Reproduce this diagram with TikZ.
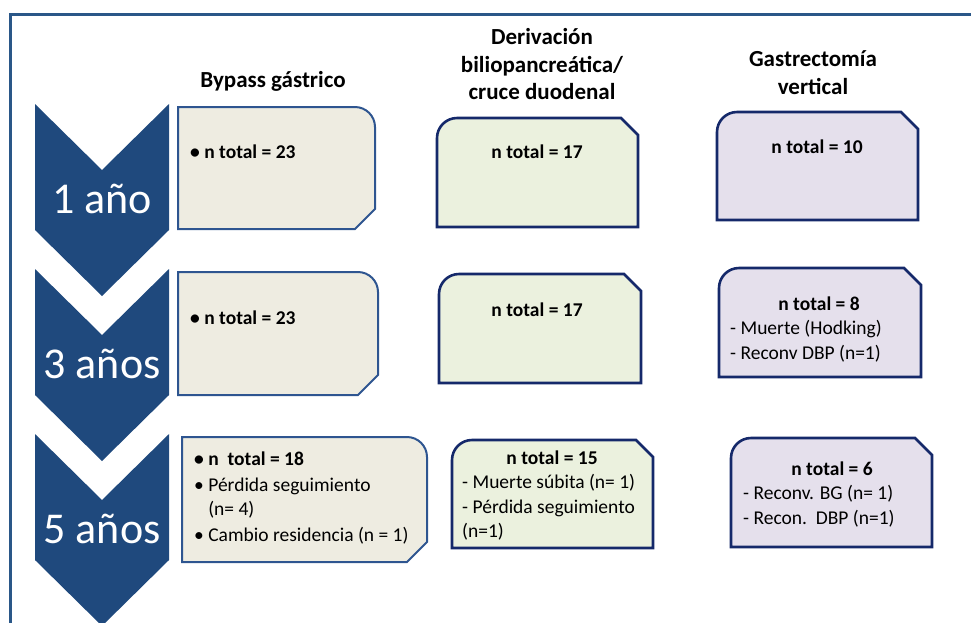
\documentclass[tikz,border=0pt]{standalone}
\usepackage{fontspec}
\setmainfont{Carlito}
\usepackage{xcolor}
\definecolor{framecol}{HTML}{2A5788}
\definecolor{chevcol}{HTML}{1F497D}
\definecolor{bgfill}{HTML}{EEECE1}
\definecolor{bgline}{HTML}{2E5590}
\definecolor{dbfill}{HTML}{EBF1DE}
\definecolor{gvfill}{HTML}{E5E0EC}
\definecolor{navyline}{HTML}{15296A}

% box with rounded top-right and snipped bottom-right corner
\newcommand{\snipround}[5]{%
  \filldraw[#1] (#2,#3) -- ({#4-20},#3) .. controls ({#4-9},#3) and (#4,{#3+9}) .. (#4,{#3+20})
    -- (#4,{#5-20}) -- ({#4-20},#5) -- (#2,#5) -- cycle;}
% box with rounded top-left and snipped top-right corner
\newcommand{\roundsnip}[5]{%
  \filldraw[#1] (#2,{#3+20}) .. controls (#2,{#3+9}) and ({#2+9},#3) .. ({#2+20},#3)
    -- ({#4-17},#3) -- (#4,{#3+17}) -- (#4,#5) -- (#2,#5) -- cycle;}

\begin{document}
\begin{tikzpicture}[
        x=1pt, y=-1pt,
        yearlbl/.style={
            text=white,
            font=\fontsize{44}{50}\selectfont,
            anchor=base,
            inner sep=0pt
        },
        colhead/.style={
            font=\fontsize{23}{27.5}\selectfont\bfseries,
            align=center,
            anchor=north,
            inner sep=0pt
        },
        bgbox/.style={fill=bgfill, draw=bgline, line width=2pt},
        dbbox/.style={fill=dbfill, draw=navyline, line width=2.6pt},
        gvbox/.style={fill=gvfill, draw=navyline, line width=2.6pt},
        ntotal/.style={
            font=\fontsize{19.5}{24.5}\selectfont\bfseries,
            anchor=base,
            inner sep=0pt
        },
        itemtxt/.style={
            font=\fontsize{19.5}{24.5}\selectfont,
            align=left,
            anchor=north west,
            inner sep=0pt
        }
    ]

    \useasboundingbox (0,0) rectangle (971,622);

    % Outer frame (top and left edges)
    \draw[framecol, line width=3pt] (10,640) -- (10,14) -- (990,14);

    % Year chevrons
    \foreach \t/\lbl [count=\i] in {104/1 año, 269/3 años, 434/5 años}{
        \fill[chevcol] (35,\t) -- (102,\t+66) -- (169,\t) -- (169,\t+126)
            -- (102,\t+192) -- (35,\t+126) -- cycle;
        \node[yearlbl] (year\i) at (102,\t+109) {\lbl};
    }

    % Column headers
    \node[colhead, anchor=base] (head_bg) at (273,87) {Bypass gástrico};
    \node[colhead] (head_db) at (542,28.5) {Derivación\\biliopancreática/\\cruce duodenal};
    \node[colhead] (head_gv) at (813,50.5) {Gastrectomía\\vertical};

    % Bypass gastrico boxes
    \snipround{bgbox}{178}{107}{375}{229}
    \snipround{bgbox}{178}{272}{378}{395}
    \snipround{bgbox}{182}{437}{427}{562}
    \node[ntotal, anchor=base west] (bg1_n) at (190,158) {\textbullet\ n total = 23};
    \node[ntotal, anchor=base west] (bg2_n) at (190,324) {\textbullet\ n total = 23};
    \node[itemtxt] (bg3_list) at (194,452) {\textbf{\textbullet\ n\ \ total = 18}\\[1pt]
        \textbullet\ Pérdida seguimiento\\ \phantom{\textbullet\ }(n= 4)\\[1pt]
        \textbullet\ Cambio residencia (n = 1)};

    % Derivacion biliopancreatica boxes
    \roundsnip{dbbox}{437}{118}{638}{227}
    \roundsnip{dbbox}{439}{274}{641}{383}
    \roundsnip{dbbox}{452}{440}{653}{548}
    \node[ntotal] (db1_n) at (537,158) {n total = 17};
    \node[ntotal] (db2_n) at (537,316) {n total = 17};
    \node[ntotal] (db3_n) at (552,464) {n total = 15};
    \node[itemtxt] (db3_list) at (462,474.5) {- Muerte súbita (n= 1)\\- Pérdida seguimiento\\(n=1)};

    % Gastrectomia vertical boxes
    \roundsnip{gvbox}{717}{112}{918}{220}
    \roundsnip{gvbox}{719}{268}{921}{377}
    \roundsnip{gvbox}{731}{438}{932}{547}
    \node[ntotal] (gv1_n) at (817,153) {n total = 10};
    \node[ntotal] (gv2_n) at (819,310) {n total = 8};
    \node[itemtxt] (gv2_list) at (730,320.5) {- Muerte (Hodking)\\- Reconv DBP (n=1)};
    \node[ntotal] (gv3_n) at (832,475) {n total = 6};
    \node[itemtxt] (gv3_list) at (743,485.5) {- Reconv. BG (n= 1)\\- Recon.\ \ DBP (n=1)};

\end{tikzpicture}
\end{document}
